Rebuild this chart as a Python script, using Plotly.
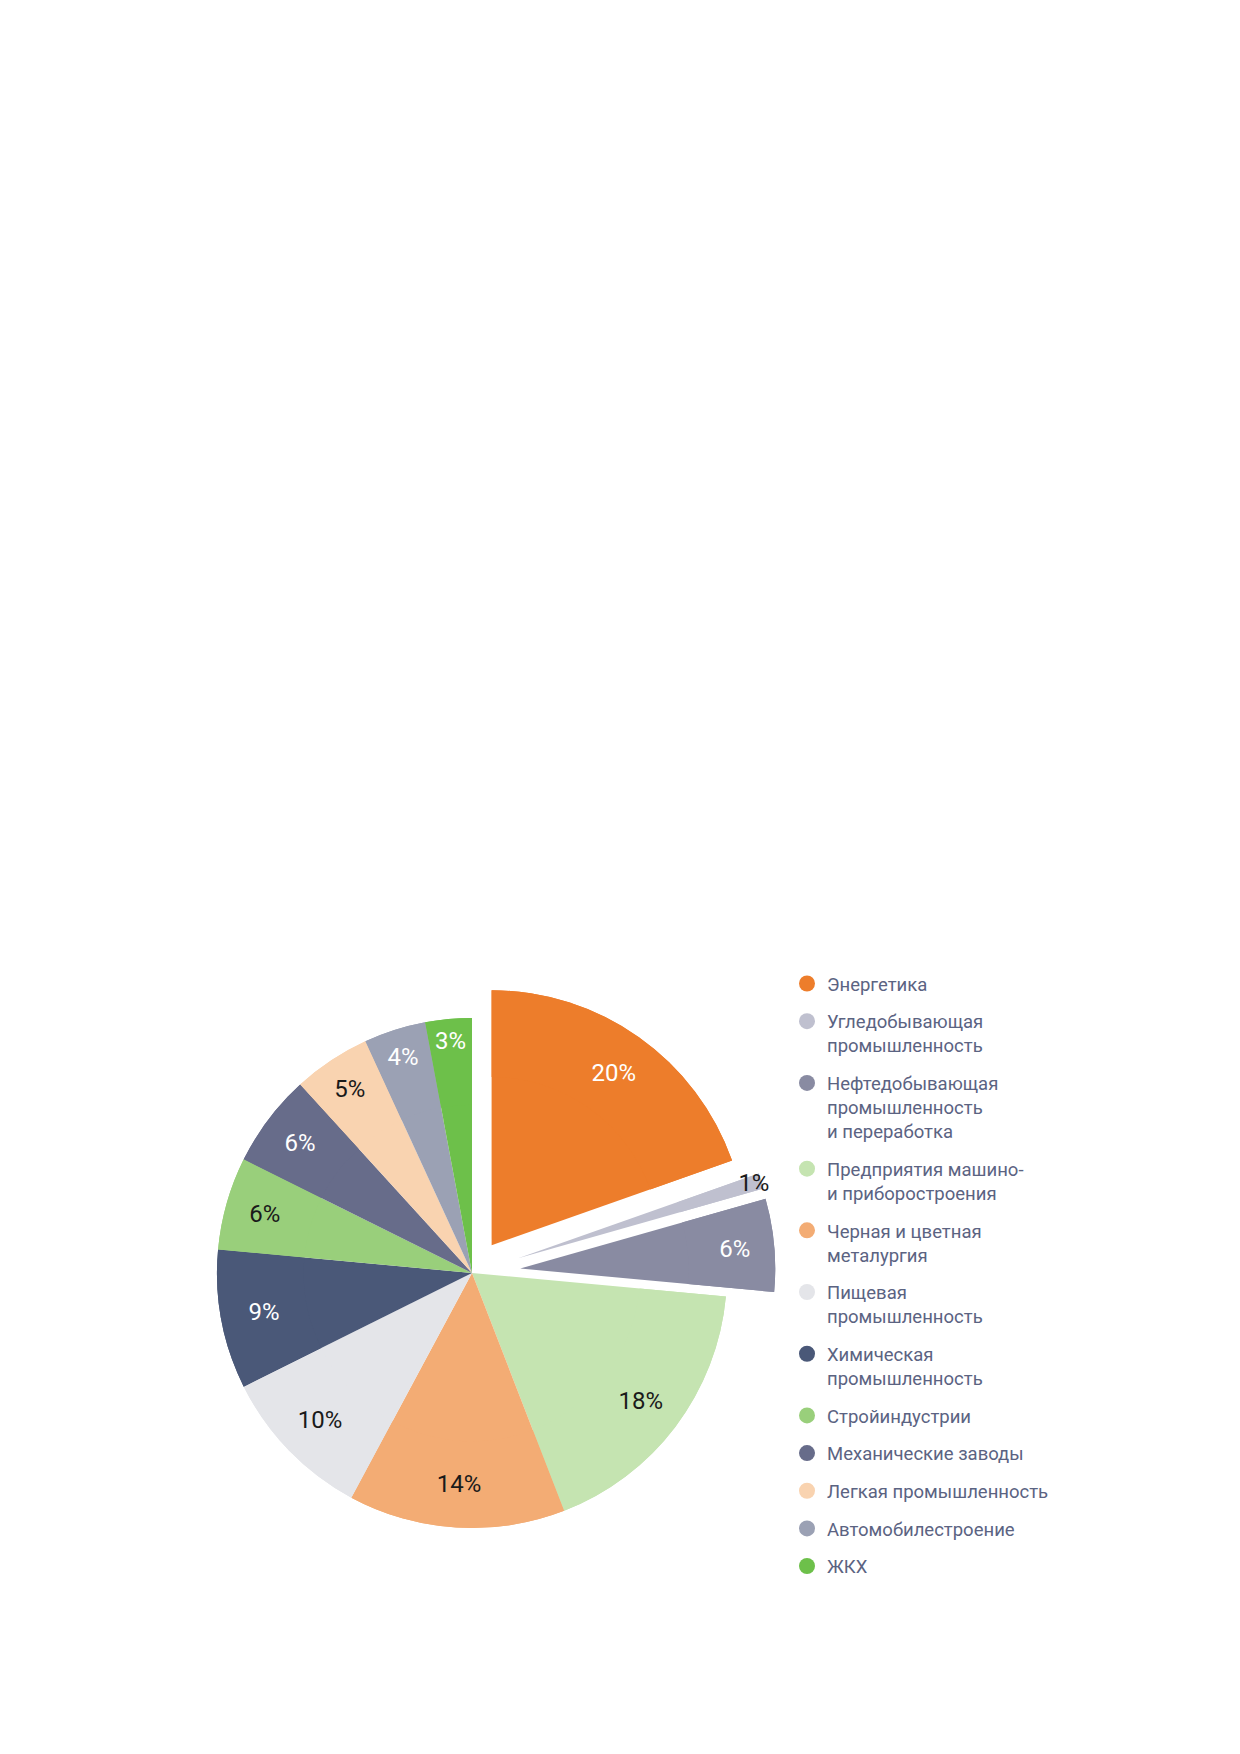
import plotly.graph_objects as go

# Отрасли (по часовой стрелке от 12 часов)
labels = [
    "Энергетика",
    "Угледобывающая<br>промышленность",
    "Нефтедобывающая<br>промышленность<br>и переработка",
    "Предприятия машино-<br>и приборостроения",
    "Черная и цветная<br>металургия",
    "Пищевая<br>промышленность",
    "Химическая<br>промышленность",
    "Стройиндустрии",
    "Механические заводы",
    "Легкая промышленность",
    "Автомобилестроение",
    "ЖКХ",
]
values = [20, 1, 6, 18, 14, 10, 9, 6, 6, 5, 4, 3]
colors = ["#ED7D2B", "#BFC0CF", "#898BA2", "#C5E4B1", "#F3AC74", "#E4E5E9",
          "#4A5878", "#99CF7B", "#676C8A", "#F9D3B0", "#9BA1B4", "#6DC04A"]
text_colors = ["white", "#1a1a1a", "white", "#1a1a1a", "#1a1a1a", "#1a1a1a",
               "white", "#1a1a1a", "white", "#1a1a1a", "white", "white"]
pulls = [0.133, 0.19, 0.19, 0, 0, 0, 0, 0, 0, 0, 0, 0]

W, H = 1240, 1754
off = 8  # the page body has an 8px margin
cx, cy, r = 472 - off, 1273 - off, 255
half = r * (1 + max(pulls))
dom_x = [(cx - half) / W, (cx + half) / W]
dom_y = [(H - cy - half) / H, (H - cy + half) / H]

fig = go.Figure()

# base pie (no text)
fig.add_trace(go.Pie(
    labels=labels, values=values, sort=False, direction="clockwise", rotation=0,
    marker=dict(colors=colors, line=dict(width=0)), pull=pulls,
    textinfo="none", hoverinfo="skip", showlegend=False,
    domain=dict(x=dom_x, y=dom_y),
))

# ring on top of it, only to push the labels out toward the rim
fig.add_trace(go.Pie(
    labels=labels, values=values, sort=False, direction="clockwise", rotation=0,
    marker=dict(colors=colors, line=dict(width=0)), pull=pulls, hole=0.66,
    texttemplate="%{value}%", textposition="inside",
    insidetextorientation="horizontal",
    textfont=dict(family="Roboto", size=24, color=text_colors),
    showlegend=False,
    domain=dict(x=dom_x, y=dom_y),
))

# legend entries with round symbols
for i, (name, c) in enumerate(zip(labels, colors)):
    fig.add_trace(go.Scatter(
        x=[None], y=[None], mode="markers", name=name,
        marker=dict(color=c, size=16, symbol="circle"),
        legendgroup=str(i), showlegend=True,
    ))

fig.update_layout(
    width=W, height=H,
    margin=dict(l=0, r=0, t=0, b=0),
    paper_bgcolor="white", plot_bgcolor="white",
    xaxis=dict(visible=False), yaxis=dict(visible=False),
    uniformtext=dict(minsize=24, mode="show"),
    legend=dict(
        x=(787 - off) / W, y=(H - 965 + off) / H, xanchor="left", yanchor="top",
        font=dict(family="Roboto", size=18.5, color="#5b6382"),
        tracegroupgap=10.6, valign="top", bgcolor="rgba(0,0,0,0)",
        itemclick=False,
    ),
)

fig.write_html("out.html")
